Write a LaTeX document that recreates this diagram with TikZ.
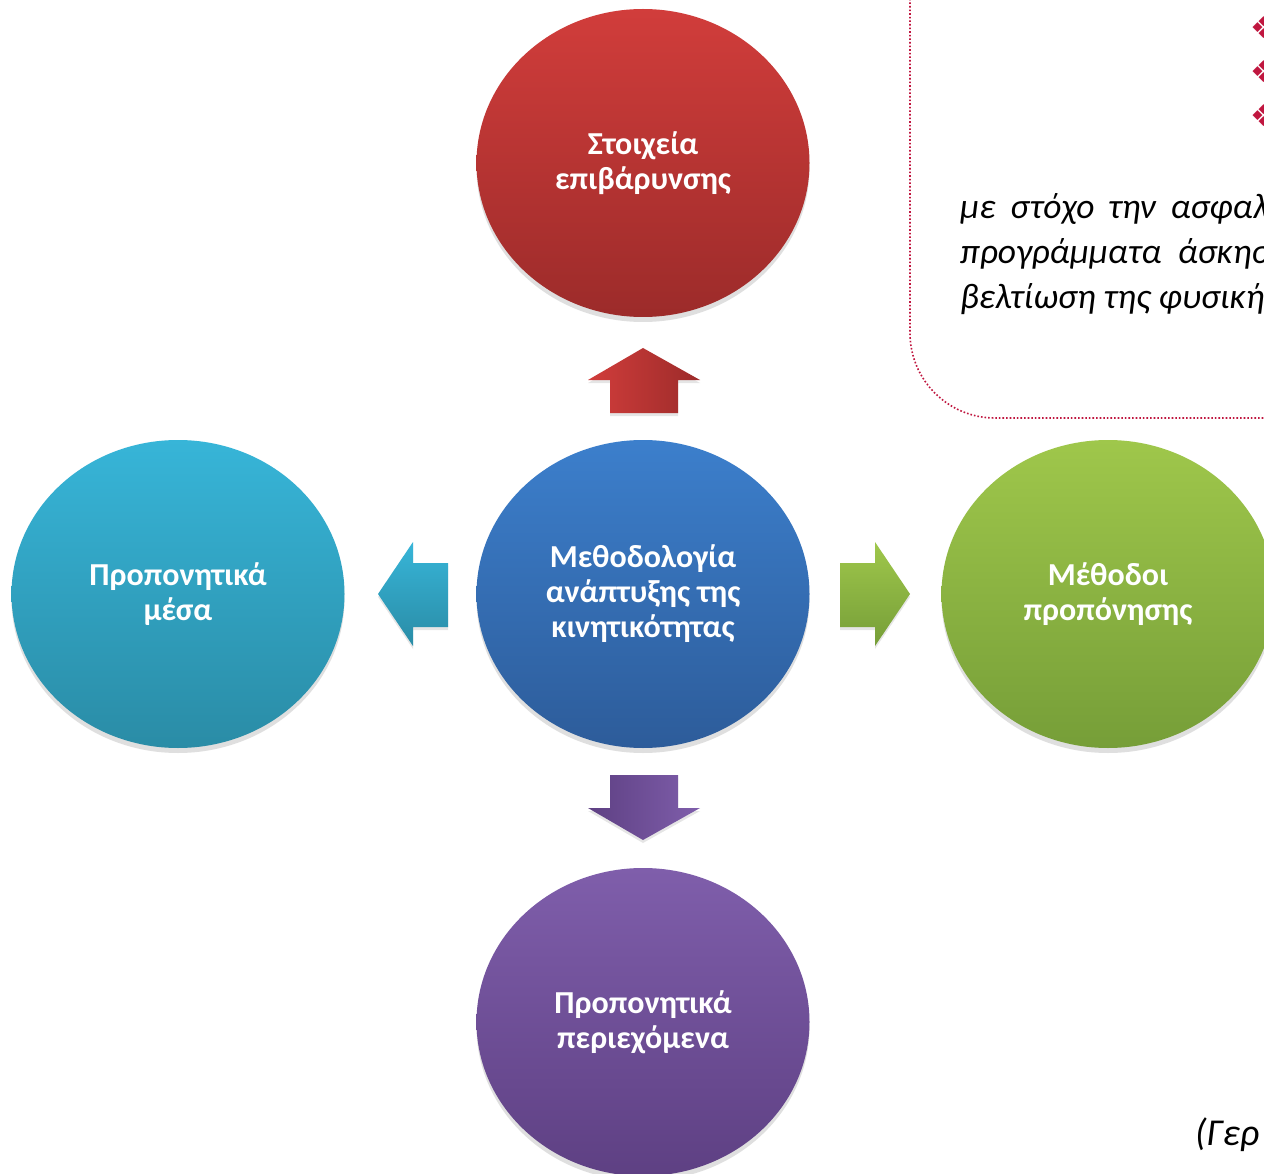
\documentclass[tikz,border=0pt]{standalone}
\usepackage{fontspec}
\setmainfont{Carlito}
\newfontfamily\symfont{DejaVu Sans}
\usetikzlibrary{shapes.geometric,shadows}
\definecolor{redT}{HTML}{D13D3B}\definecolor{redB}{HTML}{9C2B2A}
\definecolor{bluT}{HTML}{3C7FCC}\definecolor{bluB}{HTML}{2D5C9A}
\definecolor{cyaT}{HTML}{37B5D8}\definecolor{cyaB}{HTML}{2A8CA6}
\definecolor{grnT}{HTML}{9FC74B}\definecolor{grnB}{HTML}{769E38}
\definecolor{purT}{HTML}{7F5EAB}\definecolor{purB}{HTML}{5E4083}
\definecolor{crim}{HTML}{C0163F}
\tikzset{
  bubble/.style={ellipse, minimum width=333pt, minimum height=308pt, inner sep=0pt,
    text=white, align=center, font=\bfseries\fontsize{32}{35}\selectfont,
    drop shadow={opacity=0.25, shadow xshift=0pt, shadow yshift=-5pt}},
  blockarrow/.style={draw=none, drop shadow={opacity=0.2, shadow xshift=0pt, shadow yshift=-3pt}},
  note/.style={anchor=base west, inner sep=0pt, font=\itshape\fontsize{35.5}{45}\selectfont},
  bul/.style={anchor=west, inner sep=0pt, text=crim, font=\symfont\fontsize{30}{30}\selectfont}
}
\begin{document}
\begin{tikzpicture}[x=1pt,y=-1pt]
\useasboundingbox (0,0) rectangle (1264,1174);
\fill[white] (0,0) rectangle (1264,1174);
% dotted frame
\draw[crim, line width=1.6pt, dotted, rounded corners=85pt] (910,-30) -- (910,418) -- (1320,418);
\node[bul] (b1) at (1250,28) {❖};
\node[bul] (b2) at (1250,72) {❖};
\node[bul] (b3) at (1250,116) {❖};
\node[note] (n1) at (960,219) {με\hspace{0.42em}στόχο\hspace{0.38em}την\hspace{0.42em}ασφαλή};
\node[note] (n2) at (960,264) {προγράμματα\hspace{0.46em}άσκηση};
\node[note] (n3) at (960,309) {βελτίωση της φυσικής};
\node[note, font=\itshape\fontsize{38}{45}\selectfont] (src) at (1195,1145) {(Γερ};
% bubbles
\node[bubble, top color=redT, bottom color=redB] (top) at (643,163) {Στοιχεία\\επιβάρυνσης};
\node[bubble, top color=bluT, bottom color=bluB] (mid) at (643,594) {Μεθοδολογία\\ανάπτυξης της\\κινητικότητας};
\node[bubble, top color=cyaT, bottom color=cyaB] (lft) at (178,594) {Προπονητικά\\μέσα};
\node[bubble, top color=grnT, bottom color=grnB] (rgt) at (1108,594) {Μέθοδοι\\προπόνησης};
\node[bubble, top color=purT, bottom color=purB] (bot) at (643,1022) {Προπονητικά\\περιεχόμενα};
% block arrows
\path[blockarrow, left color=redT, right color=redB]
  (610,413) -- (610,380) -- (588,380) -- (643,348) -- (700,380) -- (678,380) -- (678,413) -- cycle;
\path[blockarrow, left color=purB, right color=purT]
  (610,775) -- (610,808) -- (588,808) -- (643,840) -- (700,808) -- (678,808) -- (678,775) -- cycle;
\path[blockarrow, top color=cyaT, bottom color=cyaB]
  (448,563) -- (413,563) -- (413,542) -- (378,594) -- (413,646) -- (413,627) -- (448,627) -- cycle;
\path[blockarrow, top color=grnT, bottom color=grnB]
  (840,563) -- (875,563) -- (875,542) -- (910,594) -- (875,646) -- (875,627) -- (840,627) -- cycle;
\end{tikzpicture}
\end{document}
